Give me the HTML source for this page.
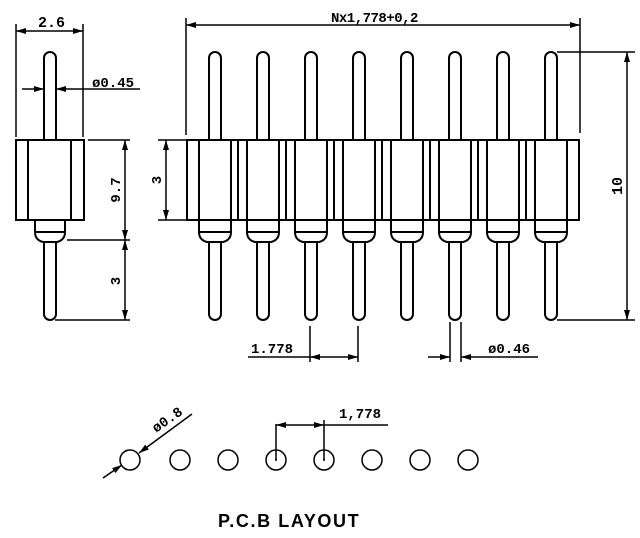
<!DOCTYPE html>
<html><head><meta charset="utf-8"><style>
html,body{margin:0;padding:0;background:#fff;width:640px;height:538px;overflow:hidden}
svg{display:block}
text{font-family:"Liberation Mono",monospace;font-weight:bold;fill:#000}
</style></head><body>
<svg width="640" height="538" viewBox="0 0 640 538" xmlns="http://www.w3.org/2000/svg">
<defs>
<g id="pin">
  <path d="M-6,140 V58 A6,6 0 0 1 6,58 V140" fill="none" stroke="#000" stroke-width="2"/>
  <path d="M-16,140 V232 Q-16,240 -8,242 H8 Q16,240 16,232 V140" fill="none" stroke="#000" stroke-width="2"/>
  <line x1="-16" y1="232" x2="16" y2="232" stroke="#000" stroke-width="2"/>
  <path d="M-6,242 V314 A6,6 0 0 0 6,314 V242" fill="none" stroke="#000" stroke-width="2"/>
</g>
<marker id="a" viewBox="0 0 10 6" refX="10" refY="3" markerWidth="10" markerHeight="6" orient="auto-start-reverse" markerUnits="userSpaceOnUse"><path d="M0,0 L10,3 L0,6z" fill="#000"/></marker>
</defs>
<g stroke="#000" stroke-width="2" fill="none">
<rect x="16" y="140" width="68" height="80"/>
<line x1="28" y1="140" x2="28" y2="220"/><line x1="71" y1="140" x2="71" y2="220"/>
<path d="M44,140 V58 A6,6 0 0 1 56,58 V140"/>
<path d="M35,220 V232 Q35,240 43,242 H57 Q65,240 65,232 V220"/>
<line x1="35" y1="232" x2="65" y2="232"/>
<path d="M44,242 V314 A6,6 0 0 0 56,314 V242"/>
<rect x="187" y="140" width="392" height="80"/>
</g>
<g>
<use href="#pin" x="215"/><use href="#pin" x="263"/><use href="#pin" x="311"/><use href="#pin" x="359"/>
<use href="#pin" x="407"/><use href="#pin" x="455"/><use href="#pin" x="503"/><use href="#pin" x="551"/>
</g>
<g stroke="#000" stroke-width="2">
<line x1="238" y1="140" x2="238" y2="220"/><line x1="286" y1="140" x2="286" y2="220"/>
<line x1="334" y1="140" x2="334" y2="220"/><line x1="382" y1="140" x2="382" y2="220"/>
<line x1="430" y1="140" x2="430" y2="220"/><line x1="478" y1="140" x2="478" y2="220"/>
<line x1="526" y1="140" x2="526" y2="220"/>
</g>
<g stroke="#000" stroke-width="1.5" fill="none">
<line x1="16" y1="24" x2="16" y2="137"/><line x1="83" y1="24" x2="83" y2="137"/>
<line x1="16" y1="31" x2="83" y2="31" marker-start="url(#a)" marker-end="url(#a)"/>
<line x1="22" y1="89" x2="44" y2="89" marker-end="url(#a)"/>
<line x1="140" y1="89" x2="56" y2="89" marker-end="url(#a)"/>
<line x1="88" y1="140" x2="130" y2="140"/><line x1="67" y1="240" x2="130" y2="240"/><line x1="55" y1="320" x2="130" y2="320"/>
<line x1="125" y1="140" x2="125" y2="240" marker-start="url(#a)" marker-end="url(#a)"/>
<line x1="125" y1="240" x2="125" y2="320" marker-start="url(#a)" marker-end="url(#a)"/>
<line x1="158" y1="140" x2="186" y2="140"/><line x1="158" y1="220" x2="186" y2="220"/>
<line x1="166" y1="140" x2="166" y2="220" marker-start="url(#a)" marker-end="url(#a)"/>
<line x1="186" y1="18" x2="186" y2="135"/><line x1="580" y1="18" x2="580" y2="133"/>
<line x1="186" y1="25" x2="580" y2="25" marker-start="url(#a)" marker-end="url(#a)"/>
<line x1="557" y1="52" x2="635" y2="52"/><line x1="557" y1="320" x2="635" y2="320"/>
<line x1="627" y1="52" x2="627" y2="320" marker-start="url(#a)" marker-end="url(#a)"/>
<line x1="310" y1="326" x2="310" y2="362"/><line x1="358" y1="326" x2="358" y2="362"/>
<line x1="248" y1="357" x2="310" y2="357"/>
<line x1="310" y1="357" x2="358" y2="357" marker-start="url(#a)" marker-end="url(#a)"/>
<line x1="450" y1="322" x2="450" y2="362"/><line x1="461" y1="322" x2="461" y2="362"/>
<line x1="428" y1="357" x2="450" y2="357" marker-end="url(#a)"/>
<line x1="538" y1="357" x2="461" y2="357" marker-end="url(#a)"/>
<circle cx="130" cy="460" r="10"/><circle cx="180" cy="460" r="10"/><circle cx="228" cy="460" r="10"/><circle cx="276" cy="460" r="10"/>
<circle cx="324" cy="460" r="10"/><circle cx="372" cy="460" r="10"/><circle cx="420" cy="460" r="10"/><circle cx="468" cy="460" r="10"/>
<line x1="103" y1="478" x2="122" y2="465" marker-end="url(#a)"/>
<line x1="192" y1="414" x2="139" y2="453" marker-end="url(#a)"/>
<line x1="276" y1="424" x2="276" y2="460"/><line x1="324" y1="420" x2="324" y2="460"/>
<line x1="276" y1="425" x2="324" y2="425" marker-start="url(#a)" marker-end="url(#a)"/>
<line x1="324" y1="425" x2="388" y2="425"/>
</g>
<circle cx="276" cy="460" r="1" fill="#000"/><circle cx="324" cy="460" r="1" fill="#000"/>
<text x="38" y="27" font-size="15">2.6</text>
<text x="92" y="87" font-size="14">ø0.45</text>
<text transform="translate(120,190) rotate(-90)" font-size="14" text-anchor="middle">9.7</text>
<text transform="translate(120,281) rotate(-90)" font-size="14" text-anchor="middle">3</text>
<text transform="translate(161,180) rotate(-90)" font-size="14" text-anchor="middle">3</text>
<text x="331" y="22" font-size="14" letter-spacing="-0.5">Nx1,778+0,2</text>
<text transform="translate(622,186) rotate(-90)" font-size="15" text-anchor="middle">10</text>
<text x="251" y="353" font-size="14">1.778</text>
<text x="488" y="353" font-size="14">ø0.46</text>
<text transform="translate(156,433) rotate(-35)" font-size="14">ø0.8</text>
<text x="339" y="418" font-size="14">1,778</text>
<text x="218" y="527" font-size="18" style="font-family:'Liberation Sans',sans-serif;font-weight:900" letter-spacing="1.6">P.C.B LAYOUT</text>
</svg>
</body></html>
